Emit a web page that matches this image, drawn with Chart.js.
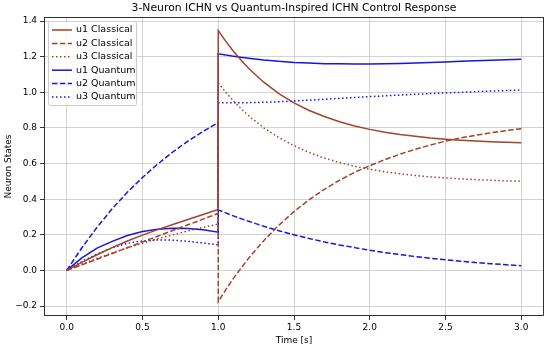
<!DOCTYPE html>
<html>
<head>
<meta charset="utf-8">
<script src="https://cdn.jsdelivr.net/npm/chart.js@4.4.1/dist/chart.umd.min.js"></script>
<style>
  html, body { margin: 0; padding: 0; background: #fff; }
  #wrap { width: 550px; height: 349px; }
</style>
</head>
<body>
<div id="wrap"><canvas id="chart" width="550" height="349"></canvas></div>
<script>
// Data (time points, duplicate 1.0 = the switch at t=1)
const times = [0, 0.1, 0.2, 0.3, 0.4, 0.5, 0.6, 0.7, 0.8, 0.9, 1.0,
  1.0, 1.05, 1.1, 1.15, 1.2, 1.3, 1.4, 1.5, 1.6, 1.7, 1.8, 1.9, 2.0,
  2.1, 2.2, 2.3, 2.4, 2.5, 2.6, 2.7, 2.8, 2.9, 3.0];

const u1Classical = [0, 0.045, 0.088, 0.128, 0.165, 0.198, 0.229, 0.258, 0.286, 0.314, 0.342,
  1.347, 1.286, 1.231, 1.181, 1.135, 1.057, 0.993, 0.941, 0.898, 0.864, 0.835, 0.811, 0.792,
  0.776, 0.763, 0.753, 0.744, 0.737, 0.731, 0.726, 0.722, 0.719, 0.717];
const u2Classical = [0, 0.031, 0.063, 0.095, 0.127, 0.160, 0.192, 0.224, 0.256, 0.288, 0.320,
  -0.175, -0.108, -0.045, 0.012, 0.068, 0.167, 0.254, 0.330, 0.397, 0.455, 0.506, 0.551, 0.588,
  0.622, 0.653, 0.680, 0.704, 0.726, 0.744, 0.759, 0.773, 0.785, 0.796];
const u3Classical = [0, 0.035, 0.068, 0.098, 0.127, 0.153, 0.178, 0.200, 0.222, 0.242, 0.260,
  1.053, 1.000, 0.952, 0.909, 0.869, 0.801, 0.746, 0.700, 0.662, 0.631, 0.606, 0.585, 0.568,
  0.554, 0.543, 0.533, 0.525, 0.519, 0.514, 0.510, 0.506, 0.503, 0.501];
const u1Quantum = [0, 0.070, 0.125, 0.163, 0.196, 0.218, 0.231, 0.237, 0.236, 0.228, 0.215,
  1.216, 1.209, 1.203, 1.197, 1.192, 1.182, 1.174, 1.168, 1.164, 1.161, 1.160, 1.159, 1.159,
  1.160, 1.162, 1.165, 1.168, 1.171, 1.174, 1.177, 1.180, 1.183, 1.186];
const u2Quantum = [0, 0.127, 0.242, 0.346, 0.439, 0.522, 0.597, 0.665, 0.726, 0.780, 0.830,
  0.340, 0.323, 0.306, 0.291, 0.276, 0.248, 0.223, 0.200, 0.179, 0.160, 0.143, 0.128, 0.113,
  0.100, 0.089, 0.078, 0.068, 0.060, 0.052, 0.044, 0.038, 0.032, 0.026];
const u3Quantum = [0, 0.050, 0.092, 0.127, 0.152, 0.166, 0.171, 0.170, 0.163, 0.154, 0.143,
  0.941, 0.941, 0.941, 0.941, 0.942, 0.944, 0.947, 0.951, 0.956, 0.961, 0.966, 0.971, 0.976,
  0.980, 0.985, 0.989, 0.993, 0.997, 1.000, 1.004, 1.007, 1.010, 1.013];

const xTicks = [0, 0.5, 1.0, 1.5, 2.0, 2.5, 3.0];
const xTickLabels = ["0.0", "0.5", "1.0", "1.5", "2.0", "2.5", "3.0"];
const yTicks = [-0.2, 0, 0.2, 0.4, 0.6, 0.8, 1.0, 1.2, 1.4];
const yTickLabels = ["\u22120.2", "0.0", "0.2", "0.4", "0.6", "0.8", "1.0", "1.2", "1.4"];

const FONT = "'DejaVu Sans', sans-serif";
const BROWN = "#a2432a";
const BLUE = "#1717d9";
const DASH = [5.5, 2.4];
const DOT = [1.5, 2.5];

function pts(values) {
  return values.map((v, i) => ({ x: times[i], y: v }));
}

function series(label, values, color, dash) {
  return {
    label: label,
    data: pts(values),
    borderColor: color,
    backgroundColor: color,
    borderWidth: 1.5,
    borderDash: dash,
    pointRadius: 0,
    tension: 0,
    fill: false,
  };
}

// Title, frame and in-plot legend
const decorPlugin = {
  id: "decor",
  afterDraw(chart) {
    const ctx = chart.ctx;
    const area = chart.chartArea;
    ctx.save();

    // axes frame
    ctx.strokeStyle = "#000";
    ctx.lineWidth = 0.8;
    ctx.setLineDash([]);
    ctx.strokeRect(area.left + 0.5, area.top + 0.5, area.right - area.left - 1, area.bottom - area.top - 1);

    // title
    ctx.fillStyle = "#000";
    ctx.font = "10.8px " + FONT;
    ctx.textAlign = "center";
    ctx.textBaseline = "middle";
    ctx.fillText("3-Neuron ICHN vs Quantum-Inspired ICHN Control Response", (area.left + area.right) / 2, 8);

    // legend box
    const bx = 48.5, by = 21.5, bw = 88, bh = 84;
    ctx.fillStyle = "rgba(255,255,255,0.8)";
    ctx.strokeStyle = "#cccccc";
    ctx.lineWidth = 1;
    ctx.beginPath();
    ctx.roundRect(bx, by, bw, bh, 2);
    ctx.fill();
    ctx.stroke();

    ctx.font = "9.5px " + FONT;
    ctx.textAlign = "left";
    chart.data.datasets.forEach((ds, i) => {
      const y = 30 + i * 13.4;
      ctx.strokeStyle = ds.borderColor;
      ctx.lineWidth = 1.5;
      ctx.setLineDash(ds.borderDash || []);
      ctx.beginPath();
      ctx.moveTo(52, y);
      ctx.lineTo(72, y);
      ctx.stroke();
      ctx.setLineDash([]);
      ctx.fillStyle = "#000";
      ctx.fillText(ds.label, 76, y);
    });
    ctx.restore();
  },
};

const chart = new Chart(document.getElementById("chart"), {
  type: "line",
  data: {
    datasets: [
      series("u1 Classical", u1Classical, BROWN, []),
      series("u2 Classical", u2Classical, BROWN, DASH),
      series("u3 Classical", u3Classical, BROWN, DOT),
      series("u1 Quantum", u1Quantum, BLUE, []),
      series("u2 Quantum", u2Quantum, BLUE, DASH),
      series("u3 Quantum", u3Quantum, BLUE, DOT),
    ],
  },
  options: {
    responsive: false,
    animation: false,
    devicePixelRatio: 1,
    layout: { padding: { top: 17, right: 6, left: 0, bottom: 0 } },
    plugins: {
      legend: { display: false },
      title: { display: false },
      tooltip: { enabled: false },
    },
    scales: {
      x: {
        type: "linear",
        min: -0.15,
        max: 3.15,
        afterBuildTicks: (s) => { s.ticks = xTicks.map((v) => ({ value: v })); },
        afterFit: (s) => { s.height = 33; },
        ticks: {
          color: "#000",
          font: { family: FONT, size: 9 },
          padding: 2,
          maxRotation: 0,
          callback: (v, i) => xTickLabels[i],
        },
        grid: { color: "#c8c8c8", lineWidth: 0.8, tickLength: 4, tickColor: "#000" },
        border: { display: false },
        title: { display: true, text: "Time [s]", color: "#000", font: { family: FONT, size: 9 }, padding: { top: 0, bottom: 3 } },
      },
      y: {
        type: "linear",
        min: -0.256,
        max: 1.423,
        afterBuildTicks: (s) => { s.ticks = yTicks.map((v) => ({ value: v })); },
        afterFit: (s) => { s.width = 44; },
        ticks: {
          color: "#000",
          font: { family: FONT, size: 9 },
          padding: 3,
          callback: (v, i) => yTickLabels[i],
        },
        grid: { color: "#c8c8c8", lineWidth: 0.8, tickLength: 4, tickColor: "#000" },
        border: { display: false },
        title: { display: true, text: "Neuron States", color: "#000", font: { family: FONT, size: 9 }, padding: { top: 3, bottom: 0 } },
      },
    },
  },
  plugins: [decorPlugin],
});
</script>
</body>
</html>
